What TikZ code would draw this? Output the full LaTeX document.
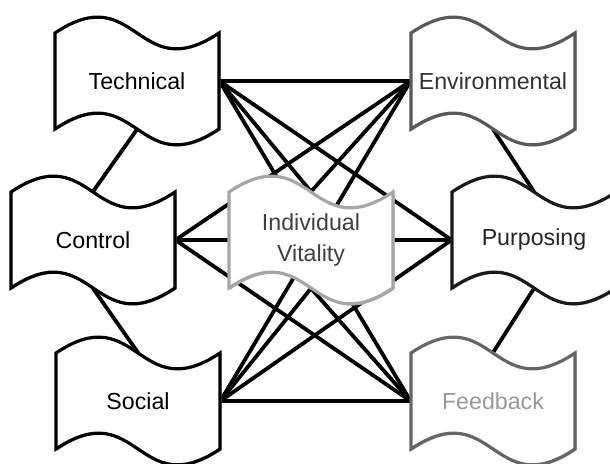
\documentclass[tikz,border=0pt]{standalone}
\usepackage{fontspec}
\setmainfont{Liberation Sans}
\pgfdeclarelayer{links}
\pgfdeclarelayer{flags}
\pgfsetlayers{links,flags,main}
\tikzset{
  box/.style={minimum width=82pt, minimum height=48pt, inner sep=0pt,
    align=center, font=\fontsize{11.6}{15.5}\selectfont},
  link/.style={line width=1.9pt, black},
  flag/.style={fill=white, line width=1.6pt, draw=#1,
    preaction={draw=gray!60, transform canvas={shift={(0.6pt,-0.6pt)}}}},
}
% wavy banner drawn around a named node
\newcommand{\banner}[2]{%
  \begin{pgfonlayer}{flags}
  \draw[flag=#2] ([shift={(-82,-48)}]#1.center)
    .. controls +(82,-55) and +(-82,55) .. ++(164,0) -- ++(0,96)
    .. controls +(-82,55) and +(82,-55) .. ++(-164,0) -- cycle;
  \end{pgfonlayer}}
\begin{document}
\begin{tikzpicture}[x=0.5pt,y=-0.5pt]
  \useasboundingbox (0,0) rectangle (610,464);
  \node[box] (tech) at (137,81) {Technical};
  \node[box, text=black!80] (env) at (493,81) {Environmental};
  \node[box] (ctrl) at (93,240) {Control};
  \node[box, text=black!85] (purp) at (534,240) {Purposing};
  \node[box] (soc) at (138,401) {Social};
  \node[box, text=black!40] (feed) at (493,401) {Feedback};
  \node[box, text=black!75] (vital) at (311,240) {Individual\\Vitality};
  \begin{pgfonlayer}{links}
  \path[link] (tech.east) edge (env.west)
                          edge (purp.west)
                          edge (feed.west)
                          edge (vital.north)
    (env.west)  edge (ctrl.east)
                edge (soc.east)
                edge (vital.north)
    (ctrl.east) edge (vital.west)
                edge (feed.west)
    (purp.west) edge (vital.east)
                edge (soc.east)
    (soc.east)  edge (feed.west)
                edge (vital.south)
    (feed.west) edge (vital.south)
    (tech.south) edge (ctrl.north)
    (env.south)  edge (purp.north)
    (ctrl.south) edge (soc.north)
    (purp.south) edge (feed.north);
  \end{pgfonlayer}
  \banner{tech}{black}
  \banner{env}{black!65}
  \banner{ctrl}{black}
  \banner{purp}{black!90}
  \banner{soc}{black}
  \banner{feed}{black!60}
  \banner{vital}{black!35}
\end{tikzpicture}
\end{document}
